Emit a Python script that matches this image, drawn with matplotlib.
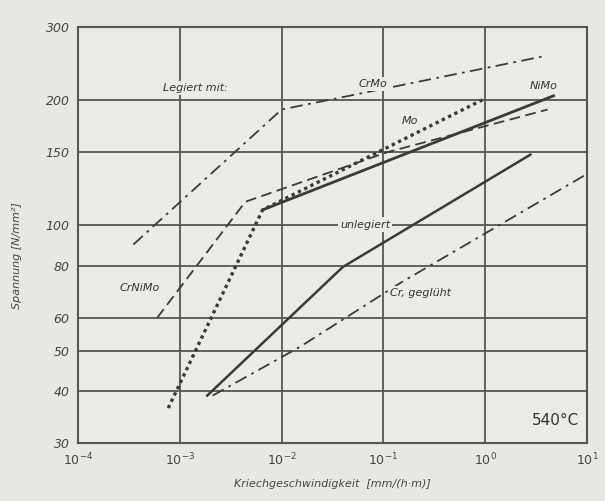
import matplotlib
matplotlib.use("Agg")
import matplotlib.pyplot as plt
import numpy as np

# ---- data ----
crmo_x = [3.5e-4, 1.0e-2, 3.7]
crmo_y = [90, 190, 255]

crnimo_x = [6.0e-4, 4.4e-3, 0.109, 4.1]
crnimo_y = [60, 114, 150, 190]

mo_x = [7.7e-4, 6.5e-3, 0.96]
mo_y = [36.4, 109, 201]

nimo_x = [6.5e-3, 4.7]
nimo_y = [109, 205]

unleg_x = [1.86e-3, 0.040, 2.78]
unleg_y = [39, 79.5, 148]

crgeg_x = [2.1e-3, 0.015, 0.15, 10.0]
crgeg_y = [39, 51, 73, 133]

yticks = [30, 40, 50, 60, 80, 100, 150, 200, 300]
xticks = [1e-4, 1e-3, 1e-2, 1e-1, 1e0, 1e1]
xticklabels = [r"$10^{-4}$", r"$10^{-3}$", r"$10^{-2}$", r"$10^{-1}$", r"$10^{0}$", r"$10^{1}$"]

bg = "#e8e8e2"
ink = "#444444"

fig = plt.figure(figsize=(6.05, 5.01), dpi=100, facecolor=bg)
ax = fig.add_axes([78/605, 58/501, 509/605, 416/501])
ax.set_facecolor("#ebebe6")
ax.set_xscale("log")
ax.set_yscale("log")
ax.set_xlim(1e-4, 1e1)
ax.set_ylim(30, 300)

ax.set_yticks(yticks)
ax.set_yticklabels([str(v) for v in yticks], fontstyle="italic", fontsize=9, color=ink)
ax.set_xticks(xticks)
ax.set_xticklabels(xticklabels, fontsize=9, color=ink)
ax.minorticks_off()
ax.tick_params(length=0, pad=6)
ax.grid(True, color="#555555", linewidth=1.3, zorder=1)
for s in ax.spines.values():
    s.set_color("#555555")
    s.set_linewidth(1.5)

lc = "#3a3a3a"
ax.plot(crmo_x, crmo_y, color=lc, lw=1.3, linestyle=(0, (7, 3, 1.5, 3)), zorder=3)
ax.plot(crnimo_x, crnimo_y, color=lc, lw=1.3, linestyle=(0, (6, 3)), zorder=3)
ax.plot(mo_x, mo_y, color=lc, lw=2.4, linestyle=(0, (1, 1.1)), zorder=3)
ax.plot(nimo_x, nimo_y, color=lc, lw=2.0, linestyle="-", zorder=3)
ax.plot(unleg_x, unleg_y, color=lc, lw=1.8, linestyle="-", zorder=3)
ax.plot(crgeg_x, crgeg_y, color=lc, lw=1.3, linestyle=(0, (7, 3, 1.5, 3)), zorder=3)

box = dict(facecolor="#ebebe6", edgecolor="none", pad=1.5)
tk = dict(fontsize=8, fontstyle="italic", color="#333333", zorder=4, ha="center", va="center")
ax.text(1.41e-3, 214, "Legiert mit:", bbox=box, **tk)
ax.text(0.078, 219, "CrMo", bbox=box, **tk)
ax.text(3.73, 216, "NiMo", bbox=box, **tk)
ax.text(0.184, 178, "Mo", bbox=box, **tk)
ax.text(0.066, 100.5, "unlegiert", bbox=box, **tk)
ax.text(4.07e-4, 70.7, "CrNiMo", bbox=box, **tk)
ax.text(0.23, 68.8, "Cr, geglüht", bbox=box, **tk)
ax.text(4.9, 34, "540°C", fontsize=11, color="#333333", ha="center", va="center", zorder=4)

ax.set_xlabel("Kriechgeschwindigkeit  [mm/(h·m)]", fontsize=8, fontstyle="italic", color=ink, labelpad=8)
ax.set_ylabel("Spannung [N/mm²]", fontsize=8, fontstyle="italic", color=ink, labelpad=14)
ax.yaxis.set_label_coords(-0.11, 0.45)

fig.savefig("out.png", dpi=100, facecolor=bg)
